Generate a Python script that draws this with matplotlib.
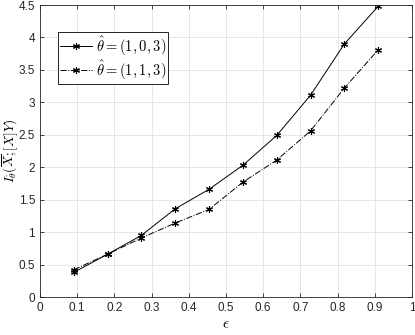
import matplotlib
matplotlib.use("Agg")
import matplotlib.pyplot as plt
import numpy as np

plt.rcParams['font.family'] = ['Liberation Sans', 'DejaVu Sans']
plt.rcParams['mathtext.fontset'] = 'cm'

eps = [1/11, 2/11, 3/11, 4/11, 5/11, 6/11, 7/11, 8/11, 9/11, 10/11]
series_103 = [0.38, 0.66, 0.95, 1.36, 1.66, 2.03, 2.49, 3.11, 3.90, 4.48]
series_113 = [0.42, 0.66, 0.91, 1.14, 1.35, 1.77, 2.11, 2.56, 3.22, 3.81]
labels = [r'$\hat{\theta}=(1,0,3)$', r'$\hat{\theta}=(1,1,3)$']
xticks = [0, 0.1, 0.2, 0.3, 0.4, 0.5, 0.6, 0.7, 0.8, 0.9, 1]
yticks = [0, 0.5, 1, 1.5, 2, 2.5, 3, 3.5, 4, 4.5]

fig = plt.figure(figsize=(4.15, 3.35), dpi=100)
ax = fig.add_axes([40/415, 38/335, 372/415, 292/335])

ax.plot(eps, series_103, '-', color='black', lw=0.7, marker=(6, 2, 0), ms=5, mew=0.8, label=labels[0])
ax.plot(eps, series_113, '-.', color='black', lw=0.7, marker=(6, 2, 0), ms=5, mew=0.8, label=labels[1])

ax.set_xlim(0, 1)
ax.set_ylim(0, 4.5)
ax.set_xticks(xticks)
ax.set_xticklabels(['0', '0.1', '0.2', '0.3', '0.4', '0.5', '0.6', '0.7', '0.8', '0.9', '1'])
ax.set_yticks(yticks)
ax.set_yticklabels(['0', '0.5', '1', '1.5', '2', '2.5', '3', '3.5', '4', '4.5'])
ax.tick_params(direction='in', length=3, width=0.6, labelsize=8.5, top=True, right=True, colors='#262626')
ax.grid(True, color='#e3e3e3', lw=0.6)
ax.set_axisbelow(True)
for s in ax.spines.values():
    s.set_linewidth(0.6)
    s.set_color('#262626')

ax.set_xlabel(r'$\epsilon$', fontsize=11)
ax.xaxis.set_label_coords(0.5, -20/292)
ax.set_ylabel(r'$I_{\hat{\theta}}(\overline{X};[X]Y)$', fontsize=9.5)
ax.yaxis.set_label_coords(-20.5/372, 0.5)

leg = ax.legend(loc='upper left', bbox_to_anchor=(0.048, 0.907), fontsize=10.5, fancybox=False,
                edgecolor='black', framealpha=1, handlelength=2.2, borderpad=0.15,
                labelspacing=0.05, handletextpad=0.25, borderaxespad=0)
leg.get_frame().set_linewidth(0.6)

fig.savefig('out.png', dpi=100)
